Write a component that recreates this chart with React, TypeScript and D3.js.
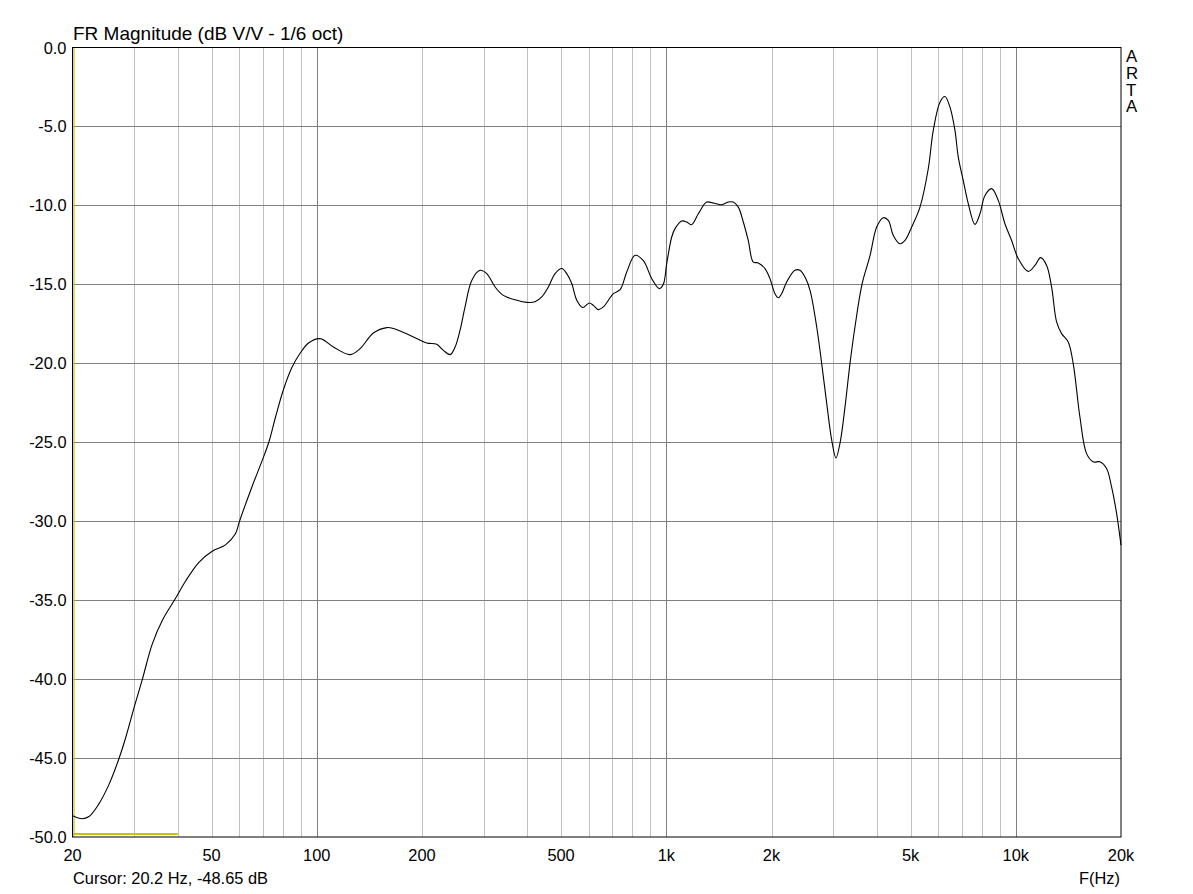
import React from "react";
import * as d3 from "d3";

const freqHz = [
  20, 21.3, 22.3, 23.8, 25.4, 27.2, 28.4, 30.1, 31.7, 33.8, 36.1, 39.4, 42.1, 46.0, 50.2, 54.8, 58.5, 60.1,
  65.3, 69.8, 72.9, 76.2, 80.3, 85.0, 90.0, 94.9, 102.2, 111.6, 124.6, 133.0, 145.2, 158.7, 165.7, 189.0,
  206.4, 220.4, 230.2, 240.7, 248.7, 257.0, 265.6, 277.6, 293.2, 306.4, 323.8, 341.8, 373.4, 398.8, 421.2,
  440.2, 459.8, 480.6, 502.2, 519.0, 536.4, 554.4, 576.8, 602.2, 618.4, 639.2, 660.6, 705.6, 737.4, 770.6,
  814.0, 859.8, 908.6, 955.0, 980.6, 1002.8, 1036.4, 1059.4, 1107, 1144, 1182, 1235, 1305, 1363, 1440, 1504,
  1555, 1607, 1661, 1716, 1774, 1833, 1916, 1980, 2046, 2092, 2139, 2210, 2334, 2412, 2494, 2578, 2694, 2784,
  2878, 2974, 3058, 3140, 3246, 3354, 3466, 3630, 3826, 4000, 4178, 4318, 4462, 4662, 4818, 5036, 5320, 5618,
  5806, 6068, 6272, 6482, 6698, 6846, 7074, 7312, 7642, 7898, 8162, 8532, 8908, 9310, 9728, 10162, 10854,
  11344, 11776, 12252, 12662, 13086, 13524, 14126, 14598, 15258, 15944, 16652, 17404, 18186, 18796, 19428, 20000,
];

const magDb = [
  -48.65, -48.84, -48.7, -47.9, -46.7, -45.0, -43.7, -41.7, -40.0, -37.8, -36.3, -34.9, -33.8, -32.6, -31.9,
  -31.5, -30.8, -30.0, -27.8, -26.15, -25.0, -23.4, -21.66, -20.24, -19.3, -18.7, -18.44, -18.97, -19.45,
  -19.07, -18.08, -17.74, -17.8, -18.33, -18.71, -18.8, -19.18, -19.45, -18.97, -17.9, -16.43, -14.75, -14.11,
  -14.32, -15.17, -15.7, -16.01, -16.14, -16.1, -15.8, -15.17, -14.32, -14.0, -14.32, -14.95, -16.01, -16.47,
  -16.18, -16.33, -16.6, -16.43, -15.59, -15.34, -14.22, -13.16, -13.5, -14.64, -15.27, -15.0, -13.69, -12.0,
  -11.47, -10.99, -11.05, -11.22, -10.53, -9.79, -9.85, -9.96, -9.79, -9.79, -10.11, -11.05, -12.22, -13.59,
  -13.64, -14.0, -14.64, -15.59, -15.85, -15.59, -14.85, -14.11, -14.11, -14.54, -15.38, -17.7, -20.02, -22.55,
  -24.87, -25.99, -25.08, -22.76, -20.02, -17.7, -15.0, -13.2, -11.37, -10.78, -10.95, -11.9, -12.43, -12.22,
  -11.37, -10.11, -7.68, -5.25, -3.46, -3.1, -3.78, -5.25, -6.94, -8.42, -9.89, -11.2, -10.53, -9.37, -8.94,
  -9.68, -11.16, -12.22, -13.37, -14.18, -13.8, -13.31, -13.8, -15.17, -17.38, -18.12, -18.65, -20.02, -23.4,
  -25.72, -26.24, -26.24, -26.66, -27.83, -29.51, -31.52,
];

const xTickValues = [20, 50, 100, 200, 500, 1000, 2000, 5000, 10000, 20000];
const xTickLabels = ["20", "50", "100", "200", "500", "1k", "2k", "5k", "10k", "20k"];
const majorGridHz = [100, 1000, 10000];
const minorGridHz = [
  30, 40, 50, 60, 70, 80, 90, 200, 300, 400, 500, 600, 700, 800, 900, 2000, 3000, 4000, 5000, 6000, 7000, 8000,
  9000,
];
const yTickValues = [0, -5, -10, -15, -20, -25, -30, -35, -40, -45, -50];
const cursorFreqRange = [20, 40];
const titleText = "FR Magnitude (dB V/V - 1/6 oct)";
const cursorText = "Cursor: 20.2 Hz, -48.65 dB";
const sideText = ["A", "R", "T", "A"];

const W = 1193;
const H = 894;
const left = 72.5;
const right = 1121;
const top = 47.5;
const bottom = 837;
const FONT = "Arial, 'Liberation Sans', Helvetica, sans-serif";
const LABEL = 16.4;

export default function App() {
  const x = d3.scaleLog().domain([20, 20000]).range([left, right]);
  const y = d3.scaleLinear().domain([-50, 0]).range([bottom, top]);
  const pts: [number, number][] = freqHz.map((f, i) => [f, magDb[i]]);
  const line = d3
    .line<[number, number]>()
    .x((d) => x(d[0]))
    .y((d) => y(d[1]))
    .curve(d3.curveCatmullRom.alpha(0.5));
  const px = (v: number) => Math.round(v) + 0.5;

  return (
    <svg
      width={W}
      height={H}
      style={{ position: "absolute", left: 0, top: 0, background: "#fff" }}
      fontFamily={FONT}
    >
      <rect x={0} y={0} width={W} height={H} fill="#fff" />
      {minorGridHz.map((f) => (
        <line key={"mi" + f} x1={px(x(f))} x2={px(x(f))} y1={top} y2={bottom} stroke="#c0c0c0" strokeWidth={1} />
      ))}
      {majorGridHz.map((f) => (
        <line key={"ma" + f} x1={px(x(f))} x2={px(x(f))} y1={top} y2={bottom} stroke="#808080" strokeWidth={1} />
      ))}
      {yTickValues.slice(1, -1).map((v) => (
        <line key={"h" + v} x1={left} x2={right} y1={px(y(v))} y2={px(y(v))} stroke="#808080" strokeWidth={1} />
      ))}
      <line x1={74} x2={74} y1={top} y2={bottom} stroke="#c8c400" strokeWidth={1.2} />
      <line
        x1={x(cursorFreqRange[0])}
        x2={x(cursorFreqRange[1])}
        y1={834}
        y2={834}
        stroke="#c8c400"
        strokeWidth={2}
      />
      <path d={line(pts) || ""} fill="none" stroke="#000" strokeWidth={1.1} />
      <rect x={72.5} y={47.5} width={1048.5} height={789.5} fill="none" stroke="#000" strokeWidth={1} />
      <text x={73} y={40} fontSize={19} fill="#000">
        {titleText}
      </text>
      {yTickValues.map((v) => (
        <text key={"yl" + v} x={66.5} y={y(v) + 6} fontSize={LABEL} textAnchor="end" fill="#000">
          {v.toFixed(1)}
        </text>
      ))}
      {xTickValues.map((v, i) => (
        <text key={"xl" + v} x={x(v)} y={861} fontSize={LABEL} textAnchor="middle" fill="#000">
          {xTickLabels[i]}
        </text>
      ))}
      <text x={73} y={884} fontSize={LABEL} fill="#000">
        {cursorText}
      </text>
      <text x={1120} y={884} fontSize={LABEL} textAnchor="end" fill="#000">
        F(Hz)
      </text>
      {sideText.map((c, i) => (
        <text key={"s" + i} x={1126} y={62.3 + i * 16.7} fontSize={16.8} fill="#000">
          {c}
        </text>
      ))}
    </svg>
  );
}
